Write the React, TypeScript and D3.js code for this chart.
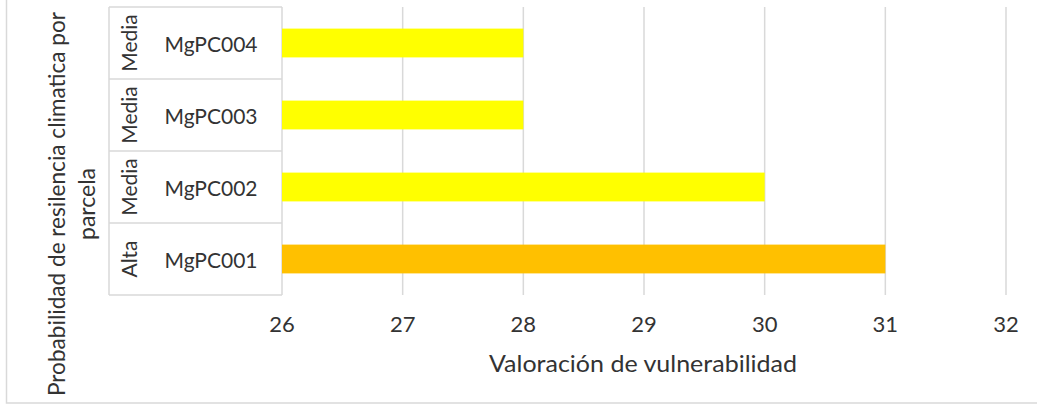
import React from "react";
import * as d3 from "d3";

const parcels = ["MgPC004", "MgPC003", "MgPC002", "MgPC001"];
const levels = ["Media", "Media", "Media", "Alta"];
const values = [28, 28, 30, 31];
const colors = ["#FFFF00", "#FFFF00", "#FFFF00", "#FFC000"];
const xTicks = [26, 27, 28, 29, 30, 31, 32];
const xTitle = "Valoración de vulnerabilidad";
const yTitleLines = ["Probabilidad de resilencia climatica por", "parcela"];

const W = 1037;
const H = 405;
const FONT = "Lato, 'Open Sans', sans-serif";
const TXT = "#333333";
const GRID = "#d9d9d9";

export default function App() {
  const x = d3.scaleLinear().domain([26, 32]).range([282, 1006]);
  const y = d3
    .scaleBand<string>()
    .domain(parcels)
    .range([7, 295])
    .paddingInner(0.6)
    .paddingOuter(0.3);
  const step = y.step();
  const top = 7;
  const bottom = 295;
  const tableLeft = 109;
  const tableRight = x(26);

  return (
    <svg
      width={W}
      height={H}
      style={{ position: "absolute", left: 0, top: 0 }}
      fontFamily={FONT}
    >
      <rect x={0} y={0} width={W} height={H} fill="#fff" />
      <rect x={6.5} y={-5} width={W + 10} height={408} fill="none" stroke={GRID} strokeWidth={1.5} />
      {xTicks.map((t) => (
        <line key={t} x1={x(t)} x2={x(t)} y1={top} y2={bottom} stroke={GRID} strokeWidth={1.5} />
      ))}
      {parcels.map((p, i) => (
        <rect
          key={p}
          x={x(26)}
          y={y(p)}
          width={x(values[i]) - x(26)}
          height={y.bandwidth()}
          fill={colors[i]}
        />
      ))}
      <line x1={tableLeft} x2={tableLeft} y1={top} y2={bottom} stroke={GRID} strokeWidth={1.5} />
      {d3.range(parcels.length + 1).map((k) => (
        <line
          key={k}
          x1={tableLeft}
          x2={tableRight}
          y1={top + k * step}
          y2={top + k * step}
          stroke={GRID}
          strokeWidth={1.5}
        />
      ))}
      {parcels.map((p, i) => {
        const cy = (y(p) as number) + y.bandwidth() / 2;
        return (
          <g key={p}>
            <text
              x={211}
              y={cy}
              textAnchor="middle"
              dominantBaseline="central"
              fontSize={21}
              fill={TXT}
            >
              {p}
            </text>
            <text
              transform={`translate(128,${cy}) rotate(-90)`}
              textAnchor="middle"
              dominantBaseline="central"
              fontSize={21}
              fill={TXT}
            >
              {levels[i]}
            </text>
          </g>
        );
      })}
      {xTicks.map((t) => (
        <text key={t} x={x(t)} y={332} textAnchor="middle" fontSize={22} fill={TXT}>
          {t}
        </text>
      ))}
      <text
        x={643}
        y={372}
        textAnchor="middle"
        fontSize={23}
        fill={TXT}
        textLength={308}
        lengthAdjust="spacingAndGlyphs"
      >
        {xTitle}
      </text>
      {yTitleLines.map((l, i) => (
        <text
          key={i}
          transform={`translate(${65 + i * 30},204) rotate(-90)`}
          textAnchor="middle"
          fontSize={23}
          fill={TXT}
          textLength={i === 0 ? 384 : undefined}
          lengthAdjust="spacingAndGlyphs"
        >
          {l}
        </text>
      ))}
    </svg>
  );
}
